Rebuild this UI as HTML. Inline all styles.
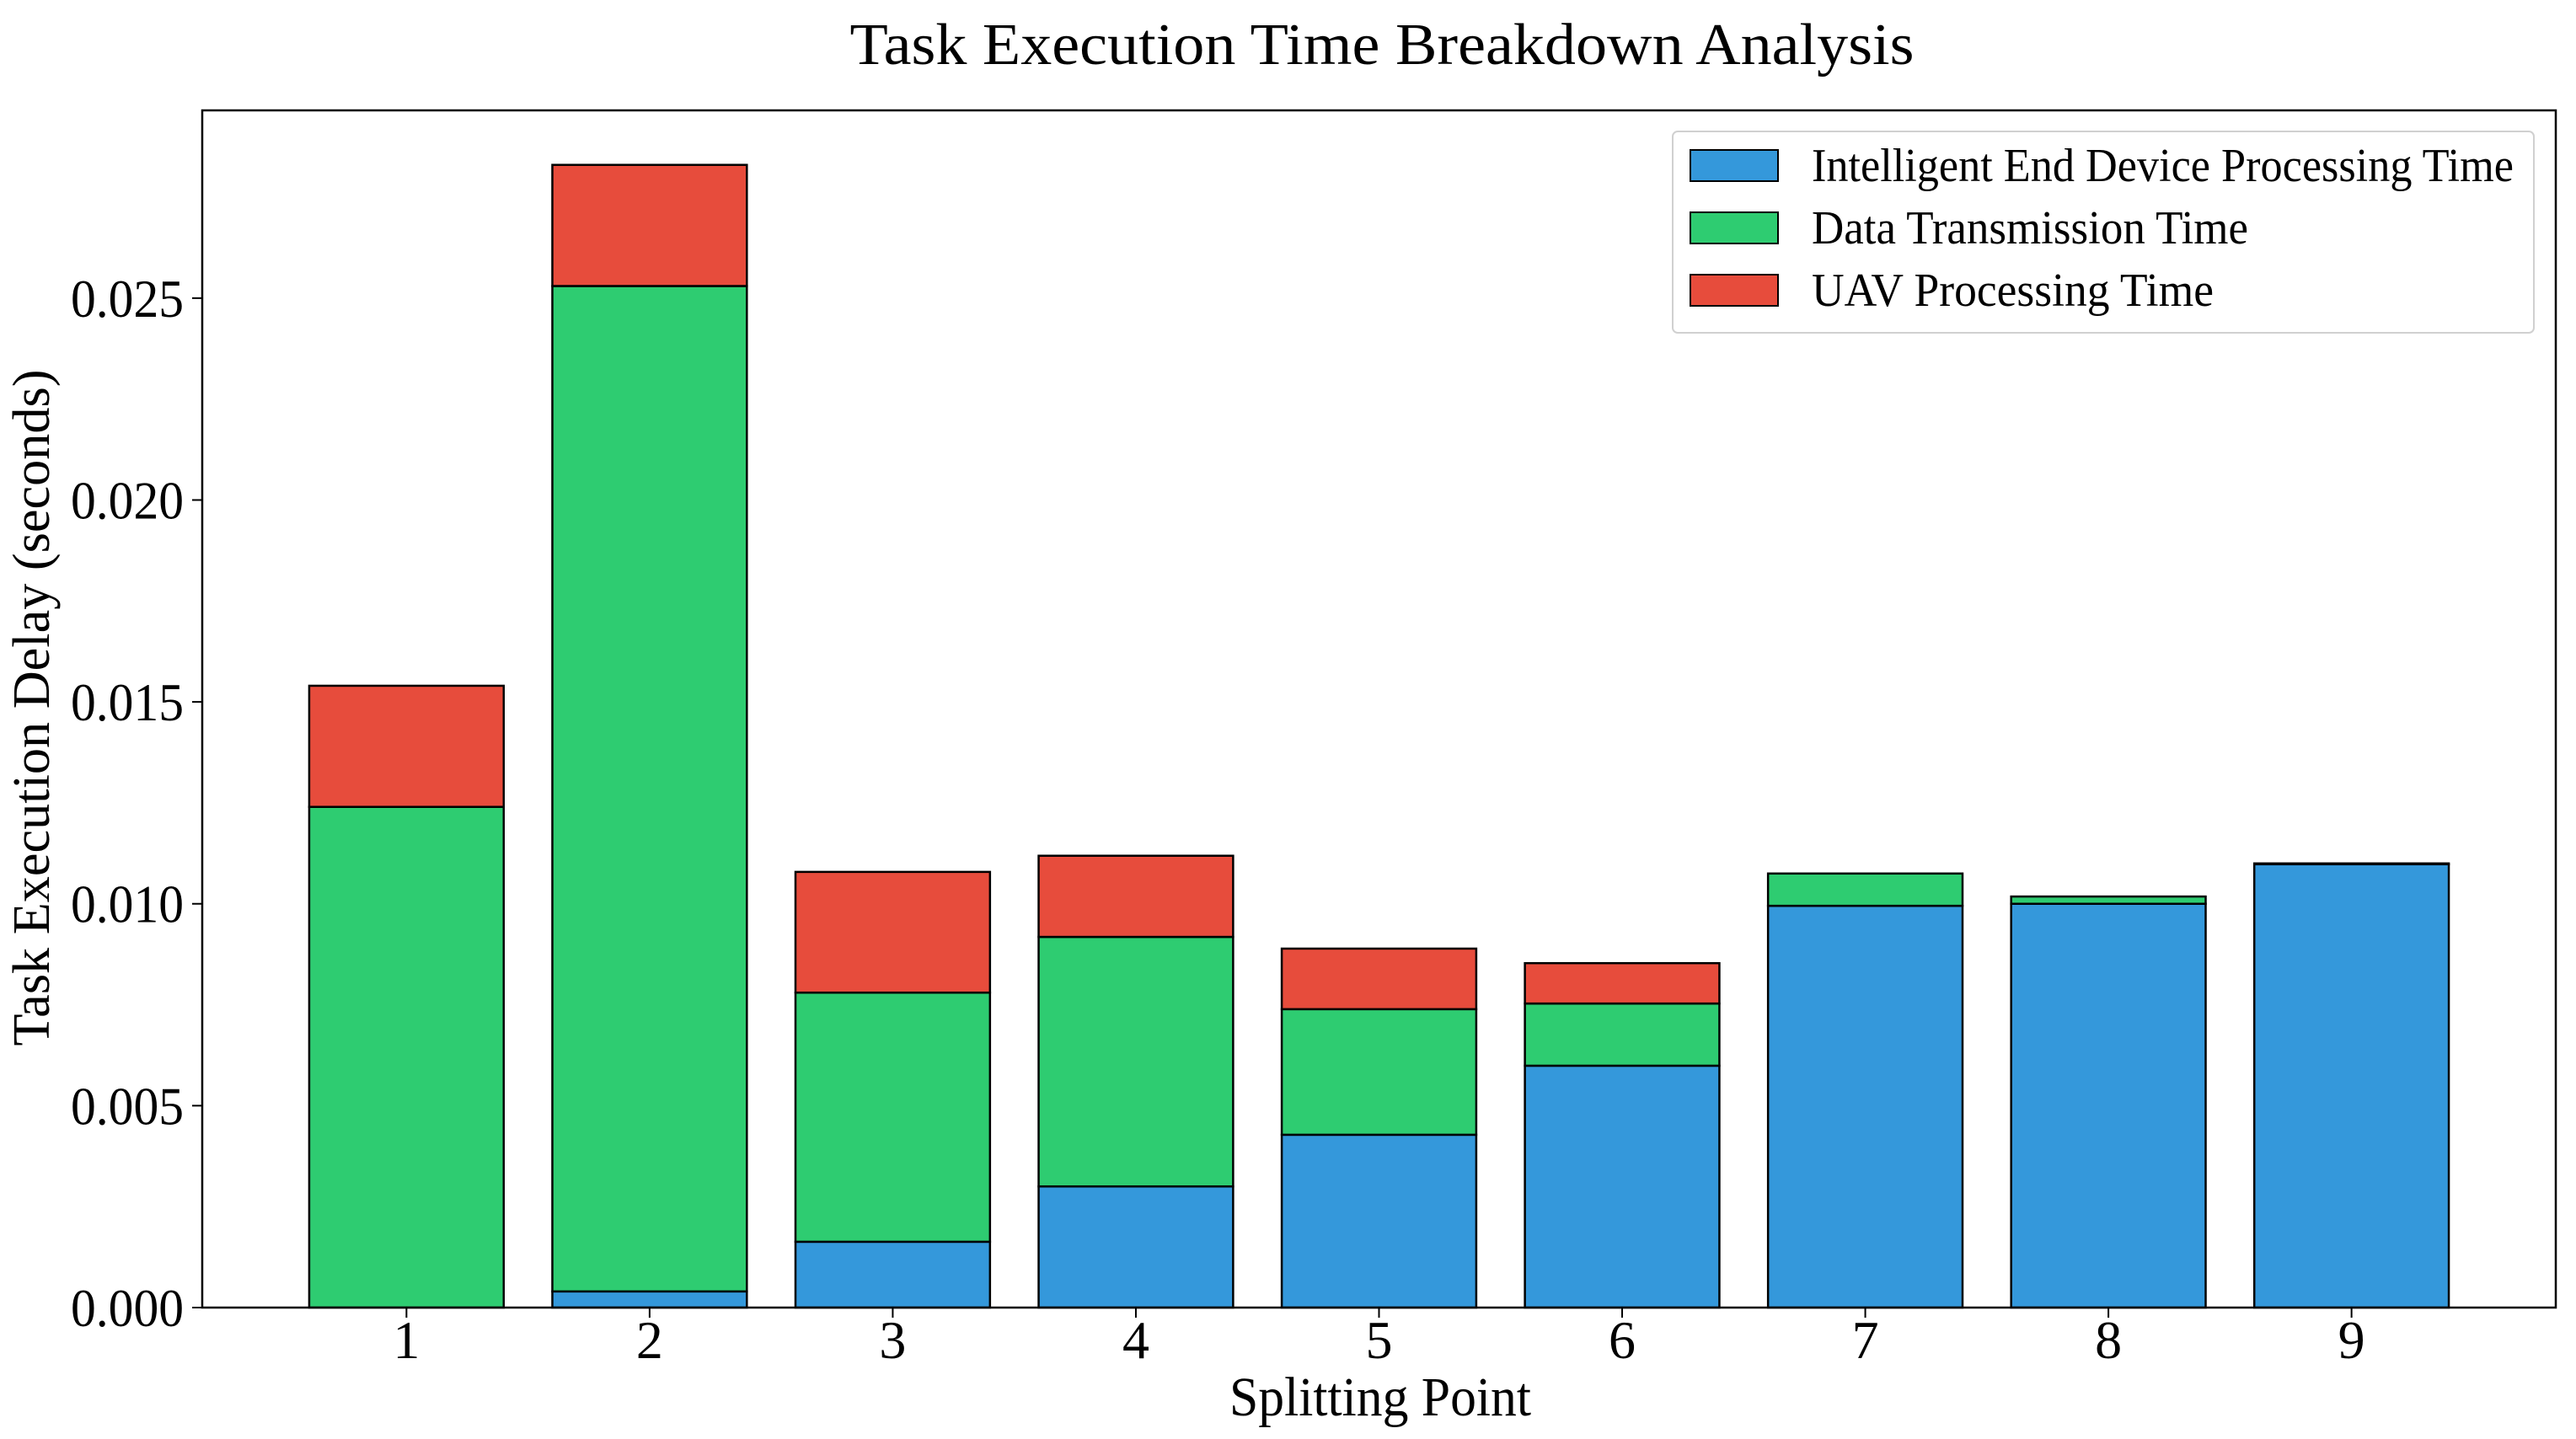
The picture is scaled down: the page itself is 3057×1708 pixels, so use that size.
<!DOCTYPE html>
<html><head><meta charset="utf-8"><style>
html,body{margin:0;padding:0;background:#fff;}
svg{display:block;font-family:"Liberation Serif",serif;}
</style></head><body>
<svg id="chart" width="3057" height="1708" viewBox="0 0 3057 1708" xmlns="http://www.w3.org/2000/svg">
<rect x="0" y="0" width="3057" height="1708" fill="#fff"/>
<text x="1640" y="76" font-size="70" text-anchor="middle" textLength="1263" lengthAdjust="spacingAndGlyphs">Task Execution Time Breakdown Analysis</text>
<g id="bars"></g>
<g id="axes"></g>
<text x="1638" y="1680" font-size="66" text-anchor="middle" textLength="358" lengthAdjust="spacingAndGlyphs">Splitting Point</text>
<text transform="translate(58,840) rotate(-90)" font-size="62" text-anchor="middle" textLength="803" lengthAdjust="spacingAndGlyphs">Task Execution Delay (seconds)</text>
<g>
<rect x="1985" y="156" width="1022" height="239" rx="6" fill="#fff" stroke="#d0d0d0" stroke-width="2"/>
<g>
<rect x="2006" y="178" width="104" height="37" fill="#3498db" stroke="#000" stroke-width="2"/>
<text x="2150" y="215" font-size="56" textLength="833" lengthAdjust="spacingAndGlyphs">Intelligent End Device Processing Time</text>
</g>
<g>
<rect x="2006" y="252" width="104" height="37" fill="#2ecc71" stroke="#000" stroke-width="2"/>
<text x="2150" y="289" font-size="56" textLength="518" lengthAdjust="spacingAndGlyphs">Data Transmission Time</text>
</g>
<g>
<rect x="2006" y="326" width="104" height="37" fill="#e74c3c" stroke="#000" stroke-width="2"/>
<text x="2150" y="363" font-size="56" textLength="477" lengthAdjust="spacingAndGlyphs">UAV Processing Time</text>
</g>
</g>
</svg>
<script>
const categories = ["1","2","3","4","5","6","7","8","9"];
const deviceTime = [0, 0.0004, 0.00163, 0.0030, 0.00428, 0.00599, 0.00995, 0.0100, 0.01098];
const transmissionTime = [0.0124, 0.0249, 0.00617, 0.00618, 0.00311, 0.00154, 0.0008, 0.00018, 0.00002];
const uavTime = [0.0030, 0.0030, 0.00299, 0.00201, 0.0015, 0.001, 0, 0, 0];
const yTicks = [0, 0.005, 0.010, 0.015, 0.020, 0.025];
const yTickLabels = ["0.000","0.005","0.010","0.015","0.020","0.025"];

const NS = "http://www.w3.org/2000/svg";
const L = 240, R = 3033, T = 131, B = 1552;
const xMin = 0.16, xMax = 9.84, yMax = 0.02965;
function xs(v){ return L + (v - xMin) / (xMax - xMin) * (R - L); }
function ys(v){ return B - v / yMax * (B - T); }
function mk(tag, attrs, parent){
  const e = document.createElementNS(NS, tag);
  for (const k in attrs) e.setAttribute(k, attrs[k]);
  parent.appendChild(e);
  return e;
}
const bars = document.getElementById('bars');
const axes = document.getElementById('axes');
const series = [
  {vals: deviceTime, color: '#3498db', name: 'device'},
  {vals: transmissionTime, color: '#2ecc71', name: 'transmission'},
  {vals: uavTime, color: '#e74c3c', name: 'uav'}
];
categories.forEach((c, i) => {
  const pos = i + 1;
  let base = 0;
  series.forEach(s => {
    const v = s.vals[i];
    const x0 = xs(pos - 0.4), x1 = xs(pos + 0.4);
    const y0 = ys(base), y1 = ys(base + v);
    const r = mk('rect', {x: x0, y: y1, width: x1 - x0, height: Math.max(0, y0 - y1), fill: s.color, stroke: '#000', 'stroke-width': 2.5}, bars);
    
    
    base += v;
  });
  const tk = mk('line', {x1: xs(pos), x2: xs(pos), y1: B, y2: B + 12, stroke: '#000', 'stroke-width': 2}, axes);
  
  
  const tl = mk('text', {x: xs(pos), y: 1612, 'font-size': 64, 'text-anchor': 'middle'}, axes);
  tl.textContent = c;
  
  
});
yTicks.forEach((v, i) => {
  const tk = mk('line', {x1: L - 12, x2: L, y1: ys(v), y2: ys(v), stroke: '#000', 'stroke-width': 2}, axes);
  
  
  const tl = mk('text', {x: 218, y: ys(v) + 22, 'font-size': 64, 'text-anchor': 'end', textLength: 134, lengthAdjust: 'spacingAndGlyphs'}, axes);
  tl.textContent = yTickLabels[i];
  
  
});
const frame = mk('rect', {x: L, y: T, width: R - L, height: B - T, fill: 'none', stroke: '#000', 'stroke-width': 2.5}, axes);


</script>
</body></html>
